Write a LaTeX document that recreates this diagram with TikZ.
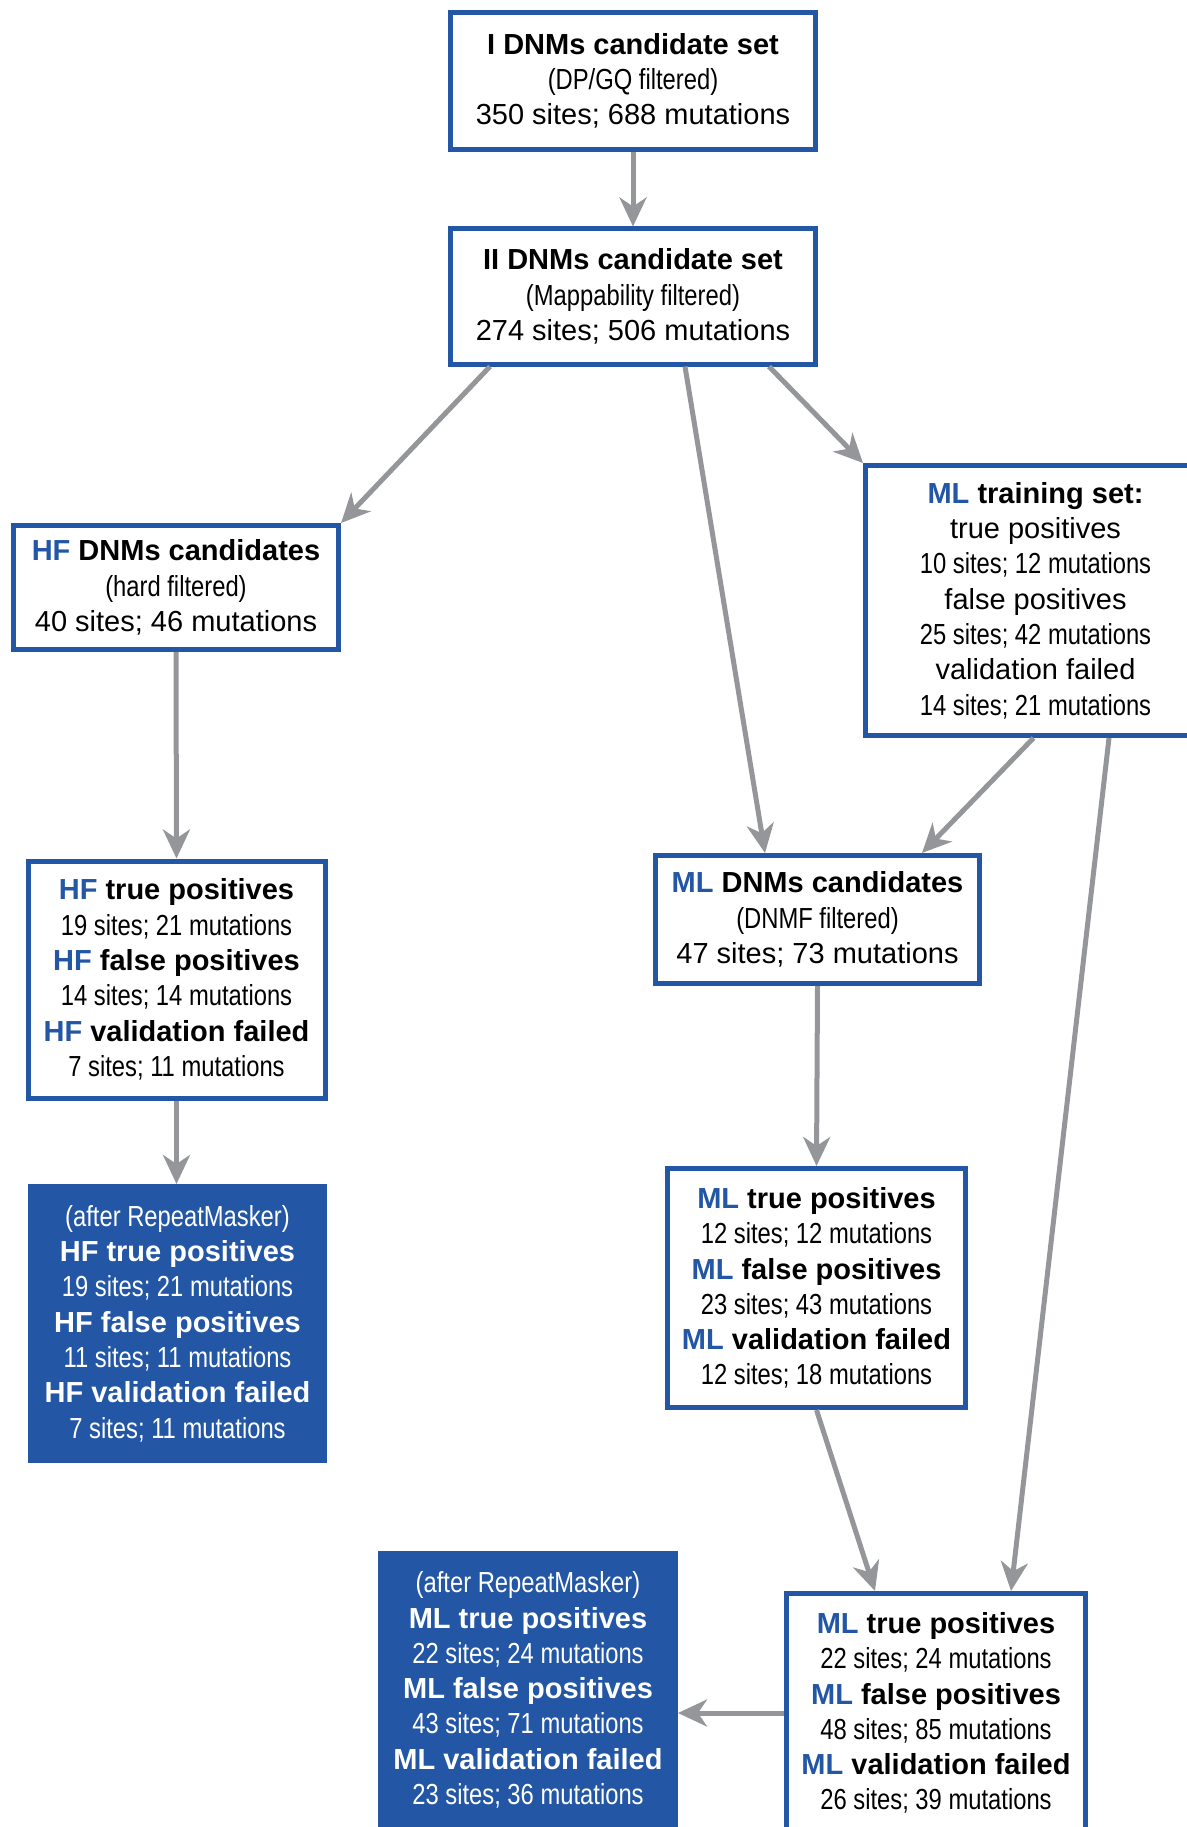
\documentclass[tikz,border=0pt]{standalone}
\usepackage{fontspec}
\setmainfont{Liberation Sans}
\usetikzlibrary{arrows.meta}
\definecolor{blu}{RGB}{35,87,165}
\definecolor{arr}{RGB}{148,150,153}
\newcommand{\cnd}[1]{\scalebox{0.82}[1]{#1}}
\newcommand{\hl}[1]{\textcolor{blu}{\textbf{#1}}}
\begin{document}
\begin{tikzpicture}[x=1pt,y=-1pt,
 box/.style={draw=blu, line width=5pt, fill=white, inner sep=0pt, align=center,
   font=\fontsize{29}{35.3}\selectfont},
 fbox/.style={box, fill=blu, text=white},
 conn/.style={draw=arr, line width=5pt, -{Stealth[length=29pt,width=27pt,inset=9pt]}}]
\useasboundingbox (0,0) rectangle (1186,1827);

\node[box, minimum width=365pt, minimum height=137pt] (I) at (633,81)
  {\textbf{I DNMs candidate set}\\ \cnd{(DP/GQ filtered)}\\ 350 sites; 688 mutations};
\node[box, minimum width=365pt, minimum height=135pt] (II) at (633,296.5)
  {\textbf{II DNMs candidate set}\\ \cnd{(Mappability filtered)}\\ 274 sites; 506 mutations};
\node[box, minimum width=325pt, minimum height=124pt] (hfc) at (176,587.5)
  {\hl{HF} \textbf{DNMs candidates}\\ \cnd{(hard filtered)}\\ 40 sites; 46 mutations};
\node[box, minimum width=340pt, minimum height=270pt] (mlt) at (1035.5,600.5)
  {\hl{ML} \textbf{training set:}\\ true positives\\ \cnd{10 sites; 12 mutations}\\
   false positives\\ \cnd{25 sites; 42 mutations}\\ validation failed\\ \cnd{14 sites; 21 mutations}};
\node[box, minimum width=297pt, minimum height=237pt] (hftp) at (176.5,979.5)
  {\hl{HF} \textbf{true positives}\\ \cnd{19 sites; 21 mutations}\\
   \hl{HF} \textbf{false positives}\\ \cnd{14 sites; 14 mutations}\\
   \hl{HF} \textbf{validation failed}\\ \cnd{7 sites; 11 mutations}};
\node[fbox, minimum width=294pt, minimum height=274pt] (hfrm) at (177.5,1323.5)
  {\cnd{(after RepeatMasker)}\\ \textbf{HF true positives}\\ \cnd{19 sites; 21 mutations}\\
   \textbf{HF false positives}\\ \cnd{11 sites; 11 mutations}\\
   \textbf{HF validation failed}\\ \cnd{7 sites; 11 mutations}};
\node[box, minimum width=324pt, minimum height=128pt] (mlc) at (817.5,919.5)
  {\hl{ML} \textbf{DNMs candidates}\\ \cnd{(DNMF filtered)}\\ 47 sites; 73 mutations};
\node[box, minimum width=298pt, minimum height=239pt] (mltp) at (816.5,1288)
  {\hl{ML} \textbf{true positives}\\ \cnd{12 sites; 12 mutations}\\
   \hl{ML} \textbf{false positives}\\ \cnd{23 sites; 43 mutations}\\
   \hl{ML} \textbf{validation failed}\\ \cnd{12 sites; 18 mutations}};
\node[fbox, minimum width=295pt, minimum height=273pt] (mlrm) at (528,1690)
  {\cnd{(after RepeatMasker)}\\ \textbf{ML true positives}\\ \cnd{22 sites; 24 mutations}\\
   \textbf{ML false positives}\\ \cnd{43 sites; 71 mutations}\\
   \textbf{ML validation failed}\\ \cnd{23 sites; 36 mutations}};
\node[box, minimum width=299pt, minimum height=239pt] (mlf) at (936,1713)
  {\hl{ML} \textbf{true positives}\\ \cnd{22 sites; 24 mutations}\\
   \hl{ML} \textbf{false positives}\\ \cnd{48 sites; 85 mutations}\\
   \hl{ML} \textbf{validation failed}\\ \cnd{26 sites; 39 mutations}};

\draw[conn] (I.south) -- (II.north);
\draw[conn] ([xshift=-143pt]II.south) -- (hfc.north east);
\draw[conn] ([xshift=52pt]II.south) -- ([xshift=-52.5pt]mlc.north);
\draw[conn] ([xshift=136pt]II.south) -- (mlt.north west);
\draw[conn] ([xshift=-2pt]mlt.south) -- ([xshift=104.5pt]mlc.north);
\draw[conn] ([xshift=73.5pt]mlt.south) -- ([xshift=75pt]mlf.north);
\draw[conn] (hfc.south) -- (hftp.north);
\draw[conn] (hftp.south) -- (hftp.south |- hfrm.north);
\draw[conn] (mlc.south) -- (mltp.north);
\draw[conn] (mltp.south) -- ([xshift=-61pt]mlf.north);
\draw[conn] (mlf.west) -- (mlf.west -| mlrm.east);
\end{tikzpicture}
\end{document}
